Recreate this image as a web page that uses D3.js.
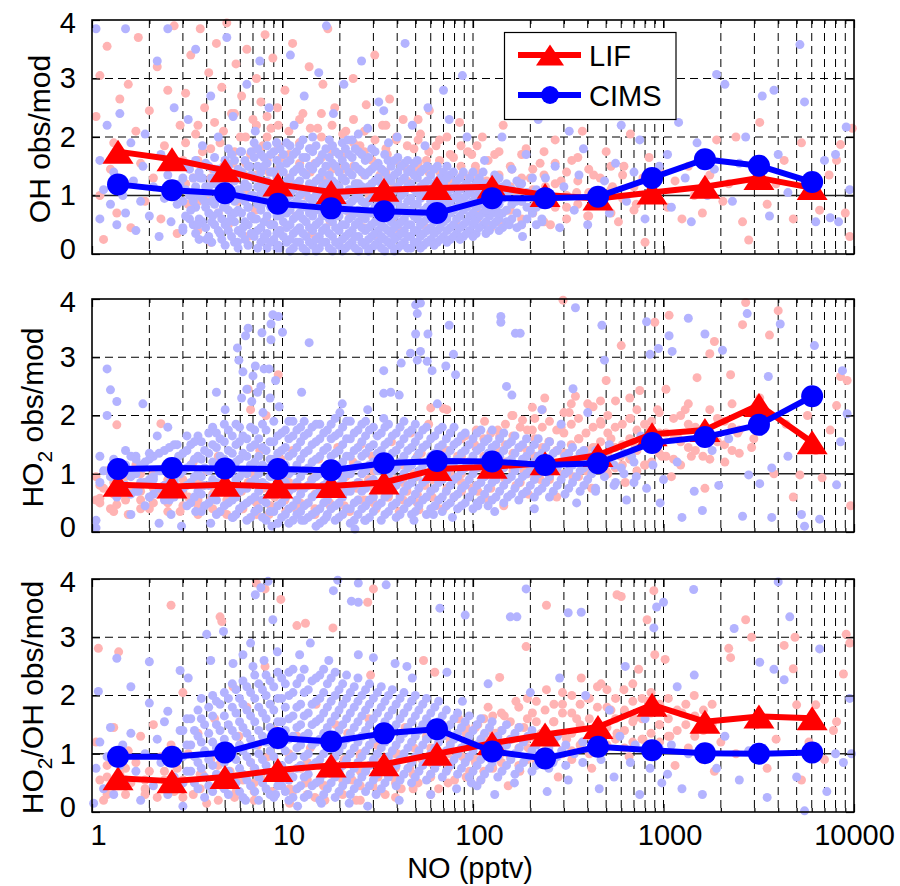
<!DOCTYPE html>
<html>
  <head>
    <meta charset="utf-8" />
    <script src="https://d3js.org/d3.v7.min.js"></script>
  </head>
  <body>
    <svg id="viz" width="900" height="886"></svg>
  </body>
  <script>
    // NO bin centres (pptv) for the binned means
    const noBins = [1.37, 2.63, 4.99, 9.46, 18.0, 34.1, 64.7, 126, 239, 453, 871, 1650, 3170, 6030];

    // binned means
    const ohLifMean = [1.75, 1.62, 1.43, 1.19, 1.06, 1.1, 1.13, 1.15, 1.01, 0.95, 1.05, 1.15, 1.3, 1.13];
    const ohCimsMean = [1.19, 1.09, 1.04, 0.86, 0.78, 0.73, 0.7, 0.955, 0.955, 0.98, 1.3, 1.62, 1.51, 1.23];
    const ho2LifMean = [0.81, 0.78, 0.81, 0.78, 0.79, 0.85, 1.08, 1.12, 1.18, 1.32, 1.68, 1.75, 2.18, 1.54];
    const ho2CimsMean = [1.08, 1.1, 1.09, 1.08, 1.06, 1.18, 1.22, 1.21, 1.15, 1.18, 1.53, 1.63, 1.84, 2.33];
    const ratioLifMean = [0.58, 0.53, 0.6, 0.72, 0.8, 0.82, 1.0, 1.18, 1.33, 1.46, 1.84, 1.55, 1.64, 1.61];
    const ratioCimsMean = [0.95, 0.95, 1.02, 1.27, 1.21, 1.35, 1.42, 1.04, 0.92, 1.12, 1.06, 1.01, 1.0, 1.02];

    // individual points [NO, obs/mod]
    const ohCimsPts = [
      [1.05,3.85],[1.1,1.6],[1.1,0.6],[1.15,1.1],[1.2,2.2],[1.25,0.85],[1.3,1.4],[1.35,0.5],[1.4,2.4],[1.45,1.0],[1.5,3.85],[1.5,0.7],[1.6,1.9],[1.65,1.25],[1.7,0.4],[1.8,0.9],[1.85,1.5],[1.9,2.05],[2.0,0.65],[2.1,1.15],[2.2,3.3],[2.25,0.3],[2.3,1.7],[2.4,0.95],[2.5,3.85],[2.5,1.35],[2.6,0.55],[2.7,2.5],[2.8,0.85],[2.9,1.2],
      [3.0,0.4],[3.1,1.55],[3.2,2.3],[3.3,0.75],[3.4,1.05],[3.5,3.5],[3.6,0.5],[3.7,1.3],[3.8,1.85],[3.9,0.9],[4.0,0.25],[4.1,1.15],[4.2,2.7],[4.3,0.65],[4.4,1.45],[4.5,0.95],[4.6,2.0],[4.7,0.35],[4.8,1.25],[4.9,0.8],[5.0,1.6],[5.1,3.7],[5.2,0.55],[5.3,1.05],[5.5,2.35],[5.6,0.7],[5.7,1.35],[5.8,0.2],[5.9,0.95],[6.0,1.75],[6.2,0.45],[6.3,1.15],[6.5,2.9],[6.6,0.8],[6.7,1.5],[6.9,0.35],[7.0,1.0],[7.2,2.1],[7.3,0.6],[7.5,1.3],[7.6,3.3],[7.8,0.85],[8.0,1.65],[8.1,0.25],[8.3,1.1],[8.5,2.5],[8.7,0.5],[8.9,1.4],[9.1,0.75],[9.3,1.9],[9.5,0.15],[9.7,1.2],[9.9,0.95],
      [11.5,2.2],[15.5,3.1],[18.5,2.4],[25,2.05],[32,2.6],[36,1.9],[48,2.2],[70,2.8],[93,2.0],[22,1.95],[28,2.15],[40,2.0],[56,1.85],
      [11,3.4],[13,2.7],[17,3.9],[21,2.9],[26,3.3],[34,2.45],[44,3.6],[58,2.5],[75,2.3],[88,3.05],
      [102,0.55],[106,1.25],[110,0.85],[115,1.6],[120,0.4],[125,1.0],[130,1.35],[136,0.7],[142,2.0],[148,1.1],[155,0.5],[160,1.45],[168,0.9],[175,1.2],[182,0.3],[190,1.7],[200,0.8],[210,1.05],[220,2.3],[230,0.6],[240,1.3],[255,0.95],[270,1.5],[285,0.45],[300,1.15],[320,2.1],[340,0.75],[360,1.35],[380,1.8],[400,0.5],[430,1.0],[460,2.45],[490,1.25],[520,0.7],[560,1.55],[600,2.2],[640,0.9],[700,1.4],[750,1.95],[800,0.6],[850,1.2],[900,2.6],[950,1.5],
      [1050,1.7],[1100,0.8],[1200,2.25],[1300,1.3],[1400,0.55],[1500,1.9],[1700,1.0],[1850,1.45],[1900,3.07],[2100,2.9],[2300,0.9],[2500,1.55],[2700,2.0],[3000,1.25],[3300,2.7],[3600,0.65],[3800,2.8],[4000,1.7],[4500,1.05],[5200,3.58],[5500,2.6],[5700,1.3],[6300,0.55],[7000,1.6],[7500,0.62],[8000,1.7],[8300,0.55],[9100,2.17],[9500,1.1]
    ];
    // dense core of each cloud, read column by column: [NO, [obs/mod values]]
    const ohCimsCloud = [
      [3.0,[0.45,0.9,1.3]],[3.25,[0.6,1.0,1.45]],[3.5,[0.35,0.8,1.15,1.6]],[3.8,[0.55,0.95,1.3]],[4.1,[0.3,0.7,1.05,1.5]],[4.4,[0.5,0.85,1.2,1.65]],[4.8,[0.25,0.6,0.95,1.35]],[5.2,[0.4,0.75,1.1,1.5,1.8]],[5.6,[0.2,0.55,0.9,1.25,1.6]],[6.1,[0.35,0.7,1.0,1.4,1.75]],[6.6,[0.15,0.5,0.8,1.15,1.5]],[7.1,[0.3,0.6,0.95,1.3,1.65,1.9]],[7.7,[0.2,0.45,0.75,1.05,1.4,1.7]],[8.3,[0.1,0.35,0.65,0.95,1.25,1.55,1.85]],[9.0,[0.25,0.5,0.8,1.1,1.4,1.75]],[9.7,[0.1,0.4,0.65,0.9,1.2,1.5,1.8]],
      [10.5,[0.2,0.45,0.7,0.95,1.25,1.55,1.9]],[11.4,[0.1,0.35,0.6,0.85,1.1,1.4,1.7]],[12.3,[0.2,0.45,0.7,1.0,1.25,1.5,1.85]],[13.3,[0.05,0.3,0.55,0.8,1.05,1.35,1.65]],[14.4,[0.15,0.4,0.65,0.9,1.15,1.45,1.75,2.0]],[15.6,[0.1,0.3,0.55,0.8,1.05,1.3,1.6]],[16.9,[0.2,0.45,0.7,0.95,1.2,1.5,1.8]],[18.3,[0.05,0.3,0.55,0.8,1.0,1.25,1.55,1.85]],[19.8,[0.15,0.4,0.65,0.9,1.15,1.4,1.7]],[21.4,[0.1,0.3,0.5,0.75,1.0,1.25,1.5,1.8]],[23.2,[0.2,0.4,0.65,0.9,1.1,1.35,1.65,1.95]],[25.1,[0.05,0.3,0.55,0.75,1.0,1.2,1.45,1.75]],[27.2,[0.15,0.4,0.6,0.85,1.1,1.35,1.6]],[29.4,[0.1,0.3,0.5,0.7,0.95,1.2,1.45,1.8]],[31.8,[0.2,0.4,0.6,0.85,1.05,1.3,1.55]],[34.4,[0.05,0.25,0.45,0.7,0.9,1.15,1.4,1.7]],[37.2,[0.15,0.35,0.55,0.8,1.0,1.25,1.5]],[40.3,[0.1,0.3,0.5,0.7,0.9,1.15,1.4,1.65]],[43.6,[0.2,0.4,0.6,0.8,1.05,1.3,1.55]],[47.2,[0.1,0.3,0.5,0.75,0.95,1.2,1.45]],
      [51,[0.2,0.4,0.6,0.85,1.05,1.3,1.6]],[55,[0.15,0.35,0.55,0.75,1.0,1.2,1.45]],[60,[0.25,0.45,0.65,0.9,1.1,1.35]],[65,[0.2,0.4,0.6,0.8,1.0,1.25,1.5]],[70,[0.3,0.55,0.75,0.95,1.2,1.4]],[76,[0.25,0.45,0.7,0.9,1.1,1.35]],[82,[0.35,0.6,0.8,1.0,1.25]],[89,[0.3,0.5,0.75,0.95,1.15,1.4]],[96,[0.4,0.65,0.85,1.05,1.3]],[104,[0.35,0.6,0.8,1.0,1.2]],[113,[0.5,0.7,0.9,1.15,1.4]],[122,[0.4,0.65,0.85,1.05]],[132,[0.55,0.8,1.0,1.25]],[143,[0.45,0.7,0.95,1.15]],[160,[0.6,0.85,1.1]],[180,[0.5,0.9,1.2]],[205,[0.7,1.0,1.3]],[230,[0.55,0.85]]
    ];
    const ohCimsCloudB = [
      [3.1,[0.65,1.1,1.5]],[3.4,[0.5,0.9,1.3]],[3.65,[0.25,0.6,1.0,1.4]],[3.95,[0.45,0.8,1.15,1.55]],[4.25,[0.2,0.55,0.9,1.3]],[4.6,[0.4,0.7,1.05,1.45]],[5.0,[0.15,0.5,0.85,1.2,1.6]],[5.4,[0.3,0.65,1.0,1.35,1.7]],[5.85,[0.1,0.4,0.75,1.1,1.45]],[6.35,[0.25,0.55,0.9,1.2,1.6]],[6.85,[0.35,0.65,1.0,1.35,1.75]],[7.4,[0.1,0.4,0.85,1.15,1.5,1.8]],[8.0,[0.3,0.55,0.9,1.2,1.5]],[8.65,[0.2,0.5,0.8,1.1,1.4,1.7]],[9.35,[0.1,0.35,0.65,0.95,1.3,1.6,1.9]],
      [10.1,[0.3,0.55,0.8,1.1,1.4,1.7]],[10.95,[0.05,0.25,0.5,0.75,1.0,1.3,1.6,1.85]],[11.85,[0.2,0.4,0.65,0.9,1.2,1.45,1.75]],[12.8,[0.1,0.35,0.6,0.85,1.1,1.4,1.65,1.95]],[13.85,[0.2,0.45,0.7,0.95,1.2,1.5,1.8]],[15.0,[0.05,0.25,0.5,0.75,1.0,1.25,1.55,1.85]],[16.2,[0.2,0.4,0.65,0.9,1.15,1.4,1.7]],[17.6,[0.1,0.35,0.6,0.85,1.1,1.35,1.65,1.95]],[19.0,[0.2,0.45,0.7,0.95,1.2,1.5,1.75]],[20.6,[0.05,0.25,0.5,0.8,1.05,1.3,1.6,1.9]],[22.3,[0.15,0.35,0.6,0.85,1.1,1.4,1.7]],[24.1,[0.1,0.3,0.5,0.7,0.95,1.2,1.5,1.8]],[26.1,[0.2,0.45,0.65,0.9,1.15,1.4,1.7]],[28.3,[0.05,0.25,0.45,0.7,0.9,1.15,1.4,1.65]],[30.6,[0.15,0.35,0.55,0.8,1.0,1.25,1.5,1.75]],[33.1,[0.1,0.3,0.5,0.75,0.95,1.2,1.45]],[35.8,[0.2,0.4,0.6,0.85,1.05,1.3,1.6]],[38.7,[0.05,0.25,0.45,0.65,0.9,1.1,1.35,1.6]],[41.9,[0.15,0.35,0.55,0.8,1.0,1.25,1.5]],[45.4,[0.1,0.3,0.5,0.7,0.9,1.15,1.4,1.6]],[49.1,[0.2,0.4,0.65,0.85,1.1,1.35,1.55]],
      [53,[0.1,0.3,0.5,0.7,0.95,1.15,1.4]],[57.5,[0.2,0.4,0.6,0.8,1.05,1.25,1.5]],[62.5,[0.15,0.35,0.55,0.75,0.95,1.2,1.45]],[67.5,[0.25,0.45,0.7,0.9,1.1,1.3]],[73,[0.2,0.4,0.6,0.85,1.05,1.3,1.5]],[79,[0.3,0.5,0.75,0.95,1.15,1.4]],[85.5,[0.25,0.45,0.65,0.9,1.1,1.3]],[92.5,[0.35,0.55,0.8,1.0,1.2]],[100,[0.3,0.5,0.7,0.9,1.15,1.4]],[108,[0.45,0.65,0.85,1.1,1.3]],[117,[0.35,0.55,0.75,0.95,1.2]],[127,[0.5,0.7,0.9,1.15]],[137,[0.4,0.6,0.85,1.05,1.3]],[150,[0.55,0.75,1.0,1.2]],[170,[0.45,0.7,0.95,1.25]],[192,[0.6,0.8,1.05]],[215,[0.5,0.8,1.1]]
    ];
    const ohLifPts = [
      [1.05,2.35],[1.1,3.05],[1.1,1.0],[1.15,0.25],[1.2,3.55],[1.25,1.45],[1.3,1.9],[1.35,0.7],[1.4,2.65],[1.5,1.2],[1.55,2.9],[1.6,0.45],[1.7,2.1],[1.75,3.7],[1.8,1.55],[1.9,0.9],[2.0,2.45],[2.1,1.3],[2.2,3.2],[2.3,0.6],[2.4,1.85],[2.5,2.8],[2.6,1.05],[2.7,3.9],[2.8,0.35],[2.9,2.2],
      [3.0,1.6],[3.1,2.75],[3.2,0.85],[3.3,3.4],[3.4,1.3],[3.5,2.05],[3.6,0.4],[3.7,3.85],[3.8,1.75],[3.9,2.5],[4.0,1.0],[4.1,3.1],[4.2,0.2],[4.3,1.45],[4.4,2.25],[4.5,3.6],[4.6,0.7],[4.7,1.9],[4.8,2.85],[5.0,1.2],[5.1,3.95],[5.2,0.5],[5.4,2.4],[5.5,1.55],[5.7,3.25],[5.8,0.9],[6.0,2.0],[6.1,2.7],[6.3,1.35],[6.5,3.5],[6.6,0.3],[6.8,1.7],[7.0,2.3],[7.2,0.75],[7.3,3.0],[7.5,1.15],[7.7,2.6],[7.9,1.85],[8.1,3.75],[8.3,0.55],[8.5,1.4],[8.7,2.15],[8.9,3.35],[9.2,1.0],[9.4,2.5],[9.7,0.4],[9.9,1.65],
      [10.3,2.8],[10.8,1.25],[11.3,3.6],[11.8,0.65],[12.3,1.9],[12.8,2.4],[13.3,1.0],[13.8,3.2],[14.3,0.35],[14.8,1.55],[15.3,2.15],[15.8,0.8],[16.3,2.9],[16.8,1.3],[17.3,3.85],[17.8,0.55],[18.3,1.75],[18.8,2.5],[19.3,1.05],[19.8,0.2],[20.5,1.45],[21.5,2.1],[22.5,0.7],[23.5,3.0],[24.5,1.2],[25.5,1.85],[26.5,0.45],[27.5,2.55],[28.5,1.0],[29.5,1.6],[30.5,3.4],[31.5,0.3],[32.5,1.35],[33.5,2.2],[34.5,0.85],[35.5,1.7],[36.5,2.65],[37.5,0.6],[38.5,1.15],[39.5,1.95],[41,0.4],[43,2.3],[45,1.25],[47,0.75],[49,1.8],[51,1.45],[53,2.05],[55,0.5],[57,1.6],[59,2.45],[61,0.95],[64,1.85],[67,1.4],[70,0.7],[73,2.0],[76,1.2],[79,1.65],[82,0.5],[85,2.25],[88,1.35],[91,0.85],[94,1.75],[97,1.1],
      [103,1.5],[107,0.7],[112,2.0],[118,1.25],[124,0.45],[130,1.7],[137,1.0],[144,2.2],[152,0.75],[160,1.45],[170,1.05],[180,0.6],[190,1.8],[200,1.3],[212,0.9],[225,1.55],[240,1.15],[255,0.5],[270,1.95],[290,1.25],[310,0.8],[330,1.6],[350,1.05],[375,2.1],[400,0.65],[430,1.35],[460,0.95],[500,1.75],[540,1.15],[580,0.55],[620,1.5],[670,2.05],[720,0.85],[780,1.3],[800,0.2],[840,1.65],[900,0.95],[960,1.4],
      [1050,0.8],[1150,1.25],[1250,0.6],[1350,1.5],[1450,1.0],[1600,0.7],[1750,1.35],[1900,1.95],[2050,0.9],[2200,1.2],[2400,2.0],[2600,0.55],[2800,0.24],[3000,1.45],[3200,2.25],[3500,0.85],[3900,1.2],[4300,1.6],[4800,0.6],[5300,1.9],[5900,1.05],[6600,0.75],[7400,1.35],[8100,1.6],[8500,1.87],[9000,0.7],[9500,0.3],[9800,2.15]
    ];
    const ohLifCloud = [
      [3.1,[1.2,1.9]],[3.6,[0.9,1.6,2.2]],[4.2,[1.3,1.8]],[4.9,[1.0,1.5,2.1]],[5.6,[1.25,1.75,2.4]],[6.4,[1.1,1.55,2.0]],[7.3,[1.35,1.8,2.2]],[8.3,[1.2,1.6,2.0,2.35]],[9.5,[1.0,1.45,1.85,2.2]],[10.8,[1.3,1.7,2.1]],[12.3,[1.15,1.55,1.9,2.3]],[14.0,[1.4,1.8,2.15]],[16.0,[1.25,1.65,2.0,2.4]],[18.2,[1.45,1.85,2.2]],[20.7,[1.3,1.7,2.05]],[23.6,[1.5,1.9,2.3]],[26.9,[1.35,1.75,2.1]],[30.6,[1.55,1.95]],[34.9,[1.4,1.8,2.2]],[39.7,[1.6,2.0]],[45.2,[1.45,1.85]],[51.5,[1.55,1.95,2.3]],[58.6,[1.4,1.75]],[66.7,[1.6,1.95]],[76,[1.3,1.7]],[86.5,[1.5,1.85]],[98.5,[1.35,1.7]],
      [105,[0.6,1.0,1.4,1.85]],[120,[0.8,1.2,1.6]],[137,[0.55,0.95,1.35,1.75]],[157,[0.75,1.15,1.5]],[180,[0.5,0.9,1.3,1.7]],[206,[0.7,1.1,1.45]],[236,[0.55,0.95,1.35,1.75]],[270,[0.8,1.2,1.55]],[310,[0.6,1.0,1.4]],[355,[0.85,1.25,1.65]],[405,[0.65,1.05,1.45]],[465,[0.9,1.3]],[530,[0.7,1.1,1.5]],[610,[0.95,1.35]],[700,[0.75,1.15]]
    ];

    const ho2CimsPts = [
      [1.05,0.07],[1.05,0.2],[1.1,1.3],[1.1,0.85],[1.15,1.05],[1.2,2.8],[1.2,2.0],[1.25,2.44],[1.25,0.95],[1.3,1.25],[1.35,2.24],[1.35,0.6],[1.4,1.15],[1.5,0.8],[1.5,1.4],[1.6,0.3],[1.6,1.0],[1.7,1.25],[1.75,0.7],[1.85,2.2],[1.85,1.1],[1.9,0.45],[2.0,1.35],[2.1,0.9],[2.2,1.65],[2.25,0.15],[2.3,1.05],[2.4,0.55],[2.5,1.8],[2.55,1.2],[2.6,0.3],[2.7,0.85],[2.8,1.5],[2.9,1.0],[2.95,0.1],
      [3.5,0.35],[4.2,0.15],[4.5,2.4],[5.5,0.25],[5.8,3.16],[5.9,2.95],[6.1,2.3],[6.2,2.75],[6.4,3.37],[6.5,2.45],[6.6,3.5],[6.9,2.24],[7.0,2.68],[7.2,2.85],[7.4,2.4],[7.7,2.5],[7.8,3.42],[8.0,2.8],[8.5,2.8],[8.6,2.3],[8.7,3.3],[8.7,3.57],[8.8,0.1],[8.9,3.73],[9.2,2.6],[9.5,3.7],[10,3.43],[5.0,2.1],[7.9,2.05],[9.6,2.15],
      [12.6,2.4],[12.6,0.2],[13.8,3.25],[17.0,0.25],[20.6,2.2],[27.0,0.2],[34.0,2.77],[34.0,2.38],[34.0,1.95],[37.0,2.4],[41.0,2.35],[42.0,2.9],[47.0,3.07],[49.0,0.2],[50.0,3.9],[50.0,3.4],[51.0,3.75],[51.0,2.95],[53.0,3.93],[53.0,3.1],[57.5,2.93],[58.0,3.4],[61.0,2.77],[62.0,0.3],[72.0,2.85],[75.0,3.55],[78.0,0.25],[79.0,3.05],[81.0,2.7],[20.0,2.05],[28.0,2.1],[65.0,2.2],[15.0,0.1],[24.0,0.05],
      [140,3.7],[140,3.6],[150,2.5],[160,2.35],[167,3.41],[177,3.41],[210,0.4],[290,1.85],[335,2.46],[345,3.85],[350,0.5],[440,0.7],[475,3.55],[490,2.95],[520,1.5],[560,0.85],[600,1.1],[640,0.55],[680,1.3],[720,0.95],[760,1.65],[815,3.61],[815,0.75],[850,3.05],[880,1.15],[940,3.15],[960,0.5],[130,0.35],[106,0.45],[230,2.1],[400,2.05],
      [1000,0.9],[1070,3.37],[1110,3.1],[1180,1.2],[1250,0.25],[1350,3.67],[1450,0.7],[1600,0.37],[1650,3.4],[1800,1.4],[1950,0.8],[2040,3.12],[2200,1.6],[2600,0.27],[2750,3.75],[2800,0.98],[3200,0.83],[3550,2.67],[3700,1.1],[3700,0.25],[4100,3.57],[4500,1.3],[5300,0.3],[5500,0.1],[6200,3.2],[6600,0.22],[8100,0.81],[8500,1.55],[8700,2.77],[9200,2.03]
    ];
    const ho2CimsCloud = [
      [1.5,[0.8,1.15]],[1.7,[0.7,1.0,1.3]],[1.9,[0.85,1.2]],[2.1,[0.65,0.95,1.3]],[2.4,[0.8,1.1,1.4]],[2.7,[0.6,0.9,1.2,1.5]],[3.0,[0.75,1.05,1.35]],[3.3,[0.5,0.85,1.15,1.5]],[3.6,[0.7,1.0,1.3,1.65]],[3.9,[0.45,0.8,1.1,1.4]],[4.3,[0.6,0.9,1.2,1.5,1.8]],[4.7,[0.35,0.7,1.0,1.3,1.6]],[5.2,[0.5,0.8,1.1,1.4,1.75]],[5.7,[0.3,0.6,0.9,1.2,1.5,1.85]],[6.2,[0.45,0.75,1.05,1.35,1.65]],[6.8,[0.25,0.55,0.85,1.15,1.45,1.8]],[7.5,[0.4,0.7,1.0,1.3,1.6]],[8.2,[0.2,0.5,0.8,1.1,1.4,1.75]],[9.0,[0.35,0.65,0.95,1.25,1.55,1.9]],[9.9,[0.25,0.5,0.8,1.1,1.4,1.7]],
      [10.8,[0.15,0.4,0.7,1.0,1.3,1.6,1.9]],[11.9,[0.3,0.55,0.85,1.15,1.45,1.75]],[13.0,[0.2,0.45,0.75,1.05,1.35,1.65,1.9]],[14.3,[0.3,0.6,0.9,1.2,1.5,1.8]],[15.7,[0.15,0.4,0.7,1.0,1.3,1.6,1.85]],[17.2,[0.3,0.55,0.85,1.15,1.45,1.75]],[18.9,[0.2,0.45,0.75,1.05,1.35,1.65,1.95]],[20.7,[0.3,0.6,0.9,1.2,1.5,1.8]],[22.7,[0.15,0.4,0.7,1.0,1.3,1.6,1.9]],[24.9,[0.3,0.55,0.85,1.15,1.45,1.75]],[27.3,[0.2,0.45,0.75,1.05,1.35,1.65,1.9]],[30,[0.35,0.6,0.9,1.2,1.5,1.8]],[33,[0.2,0.5,0.8,1.1,1.4,1.7]],[36,[0.35,0.65,0.95,1.25,1.55,1.85]],[39.5,[0.25,0.5,0.8,1.1,1.4,1.7]],[43.4,[0.4,0.7,1.0,1.3,1.6,1.9]],[47.6,[0.3,0.55,0.85,1.15,1.45,1.75]],
      [52,[0.45,0.75,1.05,1.35,1.65]],[57,[0.3,0.6,0.9,1.2,1.5,1.8]],[63,[0.45,0.75,1.05,1.35,1.65]],[69,[0.35,0.6,0.9,1.2,1.5,1.8]],[76,[0.5,0.8,1.1,1.4,1.7]],[83,[0.4,0.65,0.95,1.25,1.55]],[91,[0.5,0.8,1.1,1.4,1.7]],[100,[0.4,0.7,1.0,1.3,1.6]],[110,[0.55,0.85,1.15,1.45,1.75]],[120,[0.45,0.75,1.05,1.35,1.6]],[132,[0.6,0.9,1.2,1.5]],[145,[0.5,0.8,1.1,1.4,1.7]],[159,[0.65,0.95,1.25,1.55]],[174,[0.55,0.85,1.15,1.45]],[191,[0.7,1.0,1.3,1.6]],[210,[0.6,0.9,1.2,1.5]],[230,[0.75,1.05,1.35]],[252,[0.6,0.95,1.25,1.55]],[277,[0.8,1.1,1.4]],[304,[0.65,1.0,1.3]],[333,[0.85,1.15,1.45]],[365,[0.7,1.05,1.35]],[400,[0.9,1.2]],[440,[0.75,1.1,1.4]],[490,[0.95,1.3]],[550,[0.8,1.15]],[620,[1.0,1.35]],[700,[0.85,1.2]]
    ];
    const ho2CimsCloudB = [
      [1.6,[0.65,0.95,1.3]],[1.8,[0.85,1.15]],[2.0,[0.6,0.9,1.25]],[2.25,[0.75,1.05,1.35]],[2.55,[0.55,0.85,1.15,1.45]],[2.85,[0.7,1.0,1.3]],[3.15,[0.45,0.8,1.1,1.4,1.65]],[3.45,[0.6,0.95,1.25,1.55]],[3.75,[0.35,0.65,0.95,1.25,1.55]],[4.1,[0.5,0.8,1.05,1.35,1.7]],[4.5,[0.3,0.55,0.85,1.15,1.45,1.7]],[4.95,[0.45,0.7,0.95,1.25,1.55,1.85]],[5.45,[0.25,0.55,0.8,1.05,1.35,1.65]],[5.95,[0.4,0.7,0.95,1.25,1.55,1.8]],[6.5,[0.2,0.5,0.75,1.0,1.3,1.6]],[7.15,[0.35,0.6,0.9,1.2,1.5,1.75]],[7.85,[0.25,0.55,0.85,1.15,1.45,1.85]],[8.6,[0.35,0.65,0.95,1.25,1.55]],[9.45,[0.15,0.45,0.75,1.05,1.35,1.65]],
      [10.35,[0.3,0.6,0.85,1.15,1.45,1.75]],[11.35,[0.2,0.45,0.75,1.05,1.35,1.65,1.9]],[12.45,[0.35,0.65,0.95,1.25,1.55,1.8]],[13.65,[0.25,0.5,0.8,1.1,1.4,1.7]],[15.0,[0.35,0.65,0.95,1.25,1.55,1.85]],[16.45,[0.2,0.5,0.8,1.1,1.4,1.7]],[18.0,[0.4,0.7,1.0,1.3,1.6,1.85]],[19.8,[0.25,0.5,0.8,1.1,1.4,1.7]],[21.7,[0.4,0.7,1.0,1.3,1.6,1.9]],[23.8,[0.2,0.5,0.8,1.1,1.4,1.7]],[26.1,[0.4,0.7,1.0,1.3,1.55,1.85]],[28.6,[0.25,0.55,0.85,1.15,1.45,1.75]],[31.5,[0.45,0.75,1.05,1.35,1.65]],[34.5,[0.3,0.6,0.9,1.2,1.5,1.8]],[37.7,[0.45,0.75,1.05,1.35,1.65]],[41.4,[0.3,0.6,0.9,1.2,1.5,1.8]],[45.5,[0.5,0.8,1.1,1.4,1.7]],[49.8,[0.35,0.65,0.95,1.25,1.55,1.85]],
      [54.5,[0.55,0.85,1.15,1.45,1.75]],[60,[0.4,0.7,1.0,1.3,1.6]],[66,[0.55,0.85,1.15,1.45,1.75]],[72.5,[0.45,0.7,1.0,1.3,1.6]],[79.5,[0.6,0.9,1.2,1.5,1.8]],[87,[0.45,0.75,1.05,1.35,1.65]],[95.5,[0.6,0.9,1.2,1.5]],[105,[0.5,0.8,1.1,1.4,1.7]],[115,[0.65,0.95,1.25,1.55]],[126,[0.55,0.85,1.15,1.45,1.75]],[138,[0.7,1.0,1.3,1.6]],[152,[0.6,0.9,1.2,1.5]],[166,[0.75,1.05,1.35,1.65]],[182,[0.65,0.95,1.25,1.5]],[200,[0.8,1.1,1.4]],[220,[0.7,1.0,1.3,1.6]],[241,[0.85,1.15,1.45]],[264,[0.7,1.05,1.35]],[290,[0.9,1.2,1.5]],[318,[0.75,1.05,1.35]],[349,[0.95,1.25]],[382,[0.8,1.1,1.4]],[420,[1.0,1.3]]
    ];
    const ho2LifPts = [
      [1.05,0.95],[1.05,0.55],[1.1,0.58],[1.15,0.75],[1.2,1.05],[1.25,0.4],[1.3,0.85],[1.35,0.47],[1.35,1.84],[1.4,0.65],[1.5,0.95],[1.55,0.3],[1.6,0.7],[1.7,1.15],[1.8,0.55],[1.9,0.85],[2.0,0.4],[2.1,1.0],[2.2,0.65],[2.3,1.86],[2.4,0.8],[2.5,0.5],[2.6,1.1],[2.8,0.7],[2.9,0.35],
      [3.0,0.9],[3.2,0.6],[3.4,1.2],[3.6,0.45],[3.8,0.8],[4.0,1.05],[4.2,0.55],[4.4,0.75],[4.6,1.3],[4.8,0.35],[5.0,0.95],[5.3,0.6],[5.6,1.15],[5.9,0.7],[6.2,0.4],[6.6,2.45],[6.6,0.85],[6.8,2.1],[7.0,1.0],[7.3,0.5],[7.6,1.4],[7.9,0.75],[8.2,2.0],[8.5,0.3],[8.8,1.1],[9.1,0.6],[9.5,2.7],[9.5,0.9],[9.8,1.25],
      [10.3,0.55],[10.8,0.85],[11.3,1.4],[11.8,0.4],[12.4,0.75],[13.0,1.05],[13.6,0.5],[14.2,0.9],[14.8,0.3],[15.5,1.25],[16.2,0.65],[17.0,1.0],[17.8,0.45],[18.6,0.8],[19.5,1.45],[20.5,0.6],[21.5,0.95],[22.5,0.35],[23.5,1.2],[24.6,0.75],[25.8,1.5],[27.0,0.55],[28.3,0.9],[29.6,1.3],[31.0,0.4],[32.5,0.8],[34.0,1.1],[35.6,0.6],[37.3,1.55],[39.0,0.9],[41.0,0.35],[43.0,1.2],[45.0,0.7],[47.0,1.7],[49.0,1.0],[51.0,0.5],[52.0,0.38],[53.5,1.35],[56.0,0.8],[58.5,1.85],[60.0,2.13],[61.0,1.1],[64.0,0.45],[67.0,1.4],[70.0,2.12],[70.0,0.4],[73.0,2.1],[76.0,1.0],[79.5,0.6],[83.0,1.3],[87.0,0.85],[91.0,1.65],[95.0,1.2],[99.0,0.75],
      [102,1.5],[106,0.7],[110,1.1],[115,1.9],[120,0.55],[126,1.3],[132,0.9],[138,1.65],[145,0.45],[152,1.2],[160,2.0],[168,0.8],[176,1.45],[182,1.92],[185,1.05],[195,0.65],[205,1.75],[205,2.14],[215,1.25],[226,0.9],[238,2.3],[250,1.55],[262,1.1],[275,0.6],[290,1.8],[297,3.98],[305,1.35],[320,2.05],[335,0.95],[345,2.33],[360,1.6],[380,1.2],[400,2.2],[420,0.75],[445,1.45],[470,1.85],[500,2.6],[500,1.05],[530,1.6],[560,2.25],[595,1.3],[600,3.2],[630,0.85],[670,1.95],[710,1.45],[750,2.43],[800,1.15],[850,1.75],[900,3.6],[930,2.1],[980,1.3],
      [1030,2.45],[1070,3.72],[1100,0.95],[1200,1.6],[1300,2.1],[1400,1.3],[1500,2.65],[1650,0.75],[1750,3.06],[1850,3.27],[1950,1.9],[2100,1.2],[2250,2.7],[2450,1.7],[2600,3.56],[2700,3.94],[2900,1.45],[3200,2.3],[3600,3.38],[3800,1.0],[4000,3.8],[4400,1.85],[4800,0.6],[5200,0.98],[5700,2.0],[6300,1.4],[6800,0.93],[7500,1.75],[8100,2.17],[8500,2.67],[9200,2.6],[9600,0.45]
    ];
    const ho2LifCloud = [
      [1.1,[0.5,0.8]],[1.3,[0.35,0.65,0.95]],[1.5,[0.55,0.8]],[1.8,[0.4,0.7,1.0]],[2.1,[0.5,0.75]],[2.5,[0.35,0.6,0.9]],[3.0,[0.45,0.7]],[3.6,[0.3,0.55,0.85]],[4.3,[0.4,0.65]],[5.1,[0.3,0.55,0.8]],[6.1,[0.4,0.7]],[7.3,[0.3,0.55,0.85]],[8.7,[0.45,0.7]],[10.4,[0.35,0.6,0.9]],[12.4,[0.5,0.75]],[14.8,[0.4,0.65,0.95]],[17.7,[0.5,0.8]],[21.1,[0.45,0.7,1.0]],[25.2,[0.55,0.85]],[30,[0.5,0.75,1.05]],[36,[0.6,0.9]],[43,[0.55,0.85,1.15]],[51,[0.65,0.95,1.3]],[61,[0.6,0.9,1.2]],[73,[0.75,1.05,1.4]],[87,[0.7,1.0,1.3,1.6]],
      [104,[0.8,1.1,1.45,1.75]],[124,[0.75,1.05,1.35,1.7]],[148,[0.9,1.2,1.5,1.85]],[177,[0.85,1.15,1.45,1.8]],[211,[0.95,1.3,1.6,1.95]],[252,[0.9,1.2,1.55,1.9]],[300,[1.0,1.35,1.7,2.05]],[358,[0.95,1.25,1.6,1.95]],[427,[1.1,1.45,1.8,2.15]],[510,[1.0,1.35,1.7,2.0]],[608,[1.15,1.5,1.85]],[725,[1.05,1.4,1.75,2.1]],[865,[1.2,1.55,1.9]],[1030,[1.3,1.7]],[1230,[1.15,1.55,2.0]],[1470,[1.4,1.8]],[1750,[1.25,1.65,2.1]],[2090,[1.5,1.9]],[2500,[1.35,1.75]],[2980,[1.6,2.0]],
      [114,[0.95,1.3,1.6]],[135,[1.0,1.4,1.75]],[162,[1.05,1.35,1.65,2.0]],[193,[1.0,1.4,1.75]],[231,[1.1,1.45,1.8,2.1]],[275,[1.05,1.4,1.75]],[328,[1.15,1.5,1.85,2.2]],[392,[1.05,1.4,1.7]],[467,[1.2,1.55,1.9,2.25]],[558,[1.1,1.45,1.8]],[665,[1.25,1.6,1.95,2.3]],[795,[1.15,1.5,1.85]],[950,[1.35,1.7,2.05]],[1130,[1.25,1.6,1.95]],[1350,[1.45,1.85,2.2]],[1610,[1.3,1.7]],[1920,[1.55,1.95]],[2290,[1.4,1.8,2.2]]
    ];

    const ratioCimsPts = [
      [1.02,0.15],[1.05,0.75],[1.08,2.07],[1.1,1.2],[1.15,0.4],[1.2,0.95],[1.25,1.45],[1.3,0.3],[1.35,2.64],[1.4,0.8],[1.45,1.15],[1.5,0.55],[1.6,2.15],[1.6,1.35],[1.7,0.7],[1.8,0.2],[1.9,1.0],[2.0,2.58],[2.0,1.87],[2.1,0.45],[2.2,1.25],[2.3,0.85],[2.4,1.55],[2.5,1.73],[2.5,0.3],[2.6,1.05],[2.7,0.6],[2.9,2.43],[2.9,1.4],
      [3.0,0.1],[3.2,2.3],[3.9,0.25],[4.0,3.05],[4.2,2.6],[4.9,3.1],[6.2,2.7],[6.4,0.2],[7.0,2.5],[7.2,3.73],[7.7,3.85],[8.4,3.96],[8.9,3.3],[9.2,0.3],[5.5,2.55],[6.8,2.9],[8.0,2.6],[9.4,2.75],
      [12.3,2.7],[17.5,2.6],[18.5,3.8],[19.5,3.98],[22.4,0.15],[23.0,3.62],[25.0,3.93],[25.0,3.6],[25.0,2.7],[31.0,0.3],[35.0,3.9],[39.0,2.55],[41.0,0.2],[48.0,2.3],[60.0,0.3],[67.0,3.5],[73.0,2.4],[82.0,0.4],[88.0,1.9],[91.0,3.38],[98.0,0.5],[14.0,2.9],[30.0,2.65],[45.0,2.5],[12.0,0.1],[16.0,0.15],[28.0,0.1],
      [120,2.2],[130,0.3],[157,3.35],[170,3.35],[190,3.83],[200,2.05],[245,0.35],[285,2.3],[316,3.42],[316,0.55],[370,3.43],[390,2.0],[460,0.4],[520,1.75],[550,0.6],[590,1.3],[630,2.5],[670,0.85],[710,1.15],[750,0.3],[800,1.6],[850,0.75],[890,3.16],[920,3.52],[950,1.1],[980,0.5],[105,0.45],[165,0.5],
      [1000,3.6],[1050,0.65],[1100,1.15],[1180,2.15],[1250,0.4],[1350,1.0],[1440,3.82],[1450,2.35],[1600,0.3],[1750,1.1],[1900,0.75],[2100,1.3],[2350,3.15],[2500,0.55],[2800,1.05],[3200,2.57],[3500,0.25],[3800,2.45],[4000,3.95],[4300,2.27],[4600,3.35],[5000,0.6],[5500,0.02],[5800,0.95],[6600,2.8],[7200,0.35],[8000,1.0],[8800,0.85],[9500,1.95],[9700,1.0]
    ];
    const ratioCimsCloud = [
      [3.0,[0.5,0.95,1.4]],[3.3,[0.7,1.15,1.6]],[3.6,[0.4,0.85,1.3,1.75]],[3.9,[0.6,1.05,1.5]],[4.3,[0.35,0.8,1.2,1.65,2.0]],[4.7,[0.55,1.0,1.4,1.85]],[5.2,[0.3,0.7,1.1,1.5,1.95]],[5.7,[0.5,0.9,1.3,1.7,2.1]],[6.2,[0.25,0.65,1.05,1.45,1.85,2.25]],[6.8,[0.45,0.85,1.25,1.65,2.05]],[7.5,[0.2,0.6,1.0,1.4,1.8,2.2]],[8.2,[0.4,0.8,1.2,1.6,2.0,2.35]],[9.0,[0.25,0.6,0.95,1.35,1.75,2.15]],[9.9,[0.45,0.8,1.15,1.55,1.95,2.3]],
      [10.8,[0.2,0.55,0.9,1.25,1.6,2.0,2.4]],[11.9,[0.4,0.75,1.1,1.45,1.8,2.2]],[13.0,[0.25,0.6,0.95,1.3,1.65,2.05,2.45]],[14.3,[0.45,0.8,1.15,1.5,1.85,2.25]],[15.7,[0.2,0.55,0.9,1.25,1.6,1.95,2.35]],[17.2,[0.4,0.75,1.1,1.45,1.8,2.2]],[18.9,[0.25,0.6,0.95,1.3,1.65,2.0,2.4]],[20.7,[0.45,0.8,1.15,1.5,1.85,2.2]],[22.7,[0.3,0.65,1.0,1.35,1.7,2.05]],[24.9,[0.5,0.85,1.2,1.55,1.9,2.3]],[27.3,[0.35,0.7,1.05,1.4,1.75,2.1]],[30,[0.55,0.9,1.25,1.6,1.95]],[33,[0.4,0.75,1.1,1.45,1.8,2.15]],[36,[0.6,0.95,1.3,1.65,2.0]],[39.5,[0.45,0.8,1.15,1.5,1.85]],[43.4,[0.65,1.0,1.35,1.7,2.05]],[47.6,[0.5,0.85,1.2,1.55,1.9]],
      [52,[0.7,1.05,1.4,1.75]],[57,[0.55,0.9,1.25,1.6,1.95]],[63,[0.75,1.1,1.45,1.8]],[69,[0.6,0.95,1.3,1.65]],[76,[0.8,1.15,1.5]],[83,[0.65,1.0,1.35,1.7]],[91,[0.85,1.2,1.55]],[100,[0.7,1.05,1.4]],[110,[0.55,0.9,1.25,1.6]],[122,[0.75,1.1,1.45]],[135,[0.6,0.95,1.3]],[150,[0.8,1.15,1.5]],[166,[0.65,1.0,1.35]],[184,[0.85,1.2]],[204,[0.7,1.05,1.4]],[226,[0.9,1.25]],[250,[0.75,1.1]],[277,[0.95,1.3]],[307,[0.8,1.15]],[340,[1.0]],[377,[0.85,1.2]],[420,[1.05]],[470,[0.9,1.25]]
    ];
    const ratioCimsCloudB = [
      [3.15,[0.7,1.15,1.6]],[3.45,[0.5,0.95,1.4]],[3.75,[0.75,1.2,1.6,1.95]],[4.1,[0.45,0.9,1.35,1.8]],[4.5,[0.65,1.1,1.5,1.9]],[4.95,[0.4,0.85,1.25,1.65,2.05]],[5.45,[0.6,1.0,1.4,1.8,2.2]],[5.95,[0.35,0.75,1.15,1.55,1.95]],[6.5,[0.55,0.95,1.35,1.75,2.15]],[7.15,[0.35,0.75,1.15,1.55,1.95,2.35]],[7.85,[0.5,0.9,1.3,1.7,2.1]],[8.6,[0.3,0.65,1.05,1.45,1.85,2.25]],[9.45,[0.45,0.8,1.15,1.55,1.95,2.4]],
      [10.35,[0.35,0.7,1.05,1.4,1.8,2.2]],[11.35,[0.25,0.6,0.95,1.3,1.65,2.05,2.45]],[12.45,[0.45,0.8,1.15,1.5,1.85,2.3]],[13.65,[0.3,0.65,1.0,1.35,1.7,2.1]],[15.0,[0.5,0.85,1.2,1.55,1.9,2.3]],[16.45,[0.3,0.65,1.0,1.35,1.7,2.05,2.45]],[18.0,[0.5,0.85,1.2,1.55,1.9,2.3]],[19.8,[0.35,0.7,1.05,1.4,1.75,2.1]],[21.7,[0.55,0.9,1.25,1.6,1.95,2.35]],[23.8,[0.4,0.75,1.1,1.45,1.8,2.15]],[26.1,[0.6,0.95,1.3,1.65,2.0]],[28.6,[0.45,0.8,1.15,1.5,1.85,2.2]],[31.5,[0.65,1.0,1.35,1.7,2.05]],[34.5,[0.5,0.85,1.2,1.55,1.9]],[37.7,[0.7,1.05,1.4,1.75,2.1]],[41.4,[0.55,0.9,1.25,1.6,1.95]],[45.5,[0.75,1.1,1.45,1.8]],[49.8,[0.6,0.95,1.3,1.65,2.0]],
      [54.5,[0.8,1.15,1.5,1.85]],[60,[0.65,1.0,1.35,1.7]],[66,[0.85,1.2,1.55,1.9]],[72.5,[0.7,1.05,1.4,1.75]],[79.5,[0.9,1.25,1.6]],[87,[0.75,1.1,1.45]],[95.5,[0.6,0.95,1.3,1.65]],[105,[0.8,1.15,1.5]],[115,[0.65,1.0,1.35]],[126,[0.85,1.2,1.55]],[142,[0.7,1.05,1.4]],[158,[0.9,1.25]],[175,[0.75,1.1,1.45]],[194,[0.95,1.3]],[215,[0.8,1.15]],[238,[1.0,1.35]],[263,[0.85,1.2]],[292,[1.05]]
    ];
    const ratioLifPts = [
      [1.05,1.2],[1.08,2.81],[1.1,0.55],[1.15,0.2],[1.2,0.8],[1.25,0.45],[1.3,1.45],[1.38,2.75],[1.4,0.65],[1.5,0.3],[1.55,1.05],[1.6,0.5],[1.7,0.85],[1.8,1.3],[1.9,0.4],[2.0,0.7],[2.1,1.5],[2.2,0.25],[2.3,0.95],[2.4,0.55],[2.6,3.55],[2.6,1.15],[2.7,0.35],[2.8,0.75],
      [3.0,2.05],[3.0,0.5],[3.2,1.0],[3.4,0.3],[3.6,1.35],[3.8,0.65],[4.0,0.15],[4.2,0.9],[4.4,1.6],[4.7,3.35],[4.8,3.27],[4.8,0.45],[5.0,1.1],[5.3,0.7],[5.5,2.15],[5.6,0.25],[5.9,1.3],[6.2,0.55],[6.5,1.8],[6.8,0.85],[7.1,0.35],[7.3,3.93],[7.4,1.15],[7.7,0.6],[8.1,3.83],[8.1,2.5],[8.4,0.95],[8.8,0.3],[9.2,1.4],[9.5,0.7],[9.8,3.65],
      [10.3,0.6],[10.8,1.0],[11.3,0.35],[11.9,3.2],[11.9,1.3],[12.5,0.75],[13.2,3.24],[13.2,0.5],[14.0,1.1],[14.8,0.25],[15.0,1.85],[15.6,0.8],[16.4,0.45],[17.2,1.2],[18.1,0.65],[18.4,3.16],[19.0,1.5],[20.0,0.35],[21.0,0.9],[22.0,1.35],[23.2,0.55],[24.4,0.2],[25.6,1.0],[27.0,0.7],[28.0,3.6],[28.4,1.6],[29.0,2.35],[29.8,0.45],[30.0,3.83],[31.3,1.15],[33.0,0.8],[34.6,0.3],[36.4,1.3],[38.2,0.6],[40.0,1.0],[42.0,0.4],[44.0,1.45],[46.5,0.75],[49.0,1.1],[51.5,0.5],[54.0,0.9],[55.0,2.6],[57.0,1.3],[60.0,0.65],[63.0,2.4],[63.0,1.05],[66.0,0.4],[69.0,1.5],[72.0,0.85],[76.0,1.2],[80.0,0.55],[84.0,1.6],[88.0,0.95],[92.0,1.35],[96.0,0.7],
      [102,0.9],[106,1.5],[110,0.55],[115,1.2],[120,1.8],[126,0.8],[132,1.35],[138,2.31],[140,1.0],[146,1.65],[153,0.45],[160,1.25],[168,1.9],[176,0.7],[185,1.45],[190,2.84],[195,1.1],[205,1.7],[215,0.85],[228,1.35],[243,3.55],[243,2.1],[250,1.05],[265,1.55],[280,0.6],[295,1.85],[310,1.25],[330,0.9],[350,1.6],[370,2.3],[375,1.2],[400,1.95],[420,0.75],[445,1.45],[470,2.2],[500,1.1],[530,1.75],[570,3.73],[570,1.35],[600,3.7],[620,2.1],[660,0.95],[700,1.6],[740,2.45],[780,1.25],[820,3.3],[830,1.9],[890,3.8],[900,2.7],[950,1.5],
      [1020,2.62],[1080,1.3],[1150,0.8],[1250,1.7],[1350,1.1],[1450,2.0],[1600,0.9],[1700,1.45],[1850,0.7],[2000,1.2],[2200,2.81],[2250,2.65],[2400,1.0],[2700,3.3],[2900,3.0],[3100,1.5],[3500,0.75],[3900,1.25],[4300,2.86],[4800,2.46],[4900,3.0],[5000,1.84],[5300,0.55],[5800,1.2],[6300,1.84],[7000,0.9],[7800,1.4],[8100,1.55],[8800,2.37],[9100,3.05],[9500,2.9]
    ];
    const ratioLifCloud = [
      [1.2,[0.3,0.6]],[1.5,[0.45,0.75]],[1.9,[0.3,0.55]],[2.4,[0.4,0.7]],[3.0,[0.25,0.55]],[3.7,[0.4,0.65]],[4.6,[0.2,0.5,0.8]],[5.7,[0.35,0.6]],[7.1,[0.2,0.5,0.75]],[8.8,[0.35,0.6]],[10.9,[0.15,0.4,0.7]],[13.5,[0.3,0.55,0.85]],[16.7,[0.2,0.45,0.7]],[20.7,[0.3,0.55,0.8]],[25.6,[0.2,0.45,0.7,0.95]],[31.7,[0.35,0.6,0.85]],[39.2,[0.25,0.5,0.75,1.0]],[48.5,[0.4,0.65,0.9]],[60,[0.3,0.6,0.85,1.1]],[74,[0.5,0.75,1.0,1.3]],[92,[0.6,0.9,1.15,1.45]],
      [114,[0.7,1.0,1.3,1.6]],[141,[0.85,1.1,1.4,1.7]],[174,[0.8,1.1,1.45,1.8]],[215,[0.95,1.25,1.55,1.9]],[266,[0.9,1.2,1.55,1.85]],[330,[1.05,1.35,1.7,2.0]],[408,[1.0,1.3,1.6,1.95]],[505,[1.15,1.45,1.8,2.1]],[624,[1.1,1.4,1.75]],[772,[1.25,1.6,1.95]],[955,[1.2,1.5,1.85]],[1180,[1.4,1.75]],[1460,[1.3,1.65]],[1800,[1.5,1.85]],
      [103,[0.85,1.15,1.45]],[127,[0.75,1.05,1.35,1.65]],[157,[0.95,1.25,1.55]],[193,[0.9,1.25,1.6,1.95]],[239,[1.05,1.4,1.75]],[295,[1.0,1.35,1.7,2.05]],[365,[1.15,1.5,1.85]],[450,[1.1,1.45,1.8,2.15]],[560,[1.25,1.6,1.95]],[690,[1.2,1.55,1.9,2.2]],[860,[1.35,1.7,2.05]],[1060,[1.3,1.6,1.95]],[1310,[1.5,1.85]],[1620,[1.4,1.75]]
    ];

    const xTickLabels = [1, 10, 100, 1000, 10000];
    const yTicks = [0, 1, 2, 3, 4];
    const seriesNames = ["LIF", "CIMS"];

    const W = 900, H = 886;
    const left = 92, right = 854;
    const font = '"Liberation Sans", Arial, sans-serif';
    const lifColor = "#ff0000", cimsColor = "#0000ff";
    const lifLight = "#ffb3b3", cimsLight = "#b3b3ff";
    const dotR = 4.5;

    const flatten = (cloud) => cloud.flatMap(([n, ys]) => ys.map((v) => [n, v]));

    const panels = [
      { top: 20, bottom: 254, label: [["OH obs/mod", 0]], labelX: 50,
        lifPts: ohLifPts.concat(flatten(ohLifCloud)),
        cimsPts: flatten(ohCimsCloud).concat(flatten(ohCimsCloudB), ohCimsPts),
        lif: ohLifMean, cims: ohCimsMean },
      { top: 299, bottom: 532, label: [["HO", 0], ["2", 1], [" obs/mod", 0]], labelX: 43,
        lifPts: ho2LifPts.concat(flatten(ho2LifCloud)),
        cimsPts: flatten(ho2CimsCloud).concat(flatten(ho2CimsCloudB), ho2CimsPts),
        lif: ho2LifMean, cims: ho2CimsMean },
      { top: 579, bottom: 812, label: [["HO", 0], ["2", 1], ["/OH obs/mod", 0]], labelX: 43,
        lifPts: ratioLifPts.concat(flatten(ratioLifCloud)),
        cimsPts: flatten(ratioCimsCloud).concat(flatten(ratioCimsCloudB), ratioCimsPts),
        lif: ratioLifMean, cims: ratioCimsMean }
    ];

    const svg = d3.select("svg#viz");
    svg.append("rect").attr("width", W).attr("height", H).attr("fill", "#fff");

    const x = d3.scaleLog().domain([1, 10000]).range([left, right]);
    const allXTicks = x.ticks();
    const minorX = allXTicks.filter((v) => !xTickLabels.includes(v));
    const gridX = allXTicks.filter((v) => v > 1 && v < 10000);

    function triangle(w, h) {
      return `M0,${-h / 2}L${w / 2},${h / 2}L${-w / 2},${h / 2}Z`;
    }

    panels.forEach((p, i) => {
      const y = d3.scaleLinear().domain([0, 4]).range([p.bottom, p.top]);
      const g = svg.append("g");

      // dashed grid
      g.selectAll("line.gx").data(gridX).join("line")
        .attr("x1", (d) => x(d)).attr("x2", (d) => x(d))
        .attr("y1", p.top).attr("y2", p.bottom)
        .attr("stroke", "#000").attr("stroke-width", 1).attr("stroke-dasharray", "8,5");
      g.selectAll("line.gy").data([2, 3]).join("line")
        .attr("x1", left).attr("x2", right)
        .attr("y1", (d) => y(d)).attr("y2", (d) => y(d))
        .attr("stroke", "#000").attr("stroke-width", 1).attr("stroke-dasharray", "8,5");
      // 1:1 reference
      g.append("line")
        .attr("x1", left).attr("x2", right).attr("y1", y(1)).attr("y2", y(1))
        .attr("stroke", "#222").attr("stroke-width", 1.6);

      // scatter
      g.append("g").selectAll("circle").data(p.lifPts).join("circle")
        .attr("cx", (d) => x(d[0])).attr("cy", (d) => y(d[1])).attr("r", dotR)
        .attr("fill", lifLight);
      g.append("g").selectAll("circle").data(p.cimsPts).join("circle")
        .attr("cx", (d) => x(d[0])).attr("cy", (d) => y(d[1])).attr("r", dotR)
        .attr("fill", cimsLight);

      // binned means
      const line = d3.line().x((d) => x(d[0])).y((d) => y(d[1]));
      const lifData = noBins.map((n, k) => [n, p.lif[k]]);
      const cimsData = noBins.map((n, k) => [n, p.cims[k]]);

      g.append("path").datum(lifData).attr("d", line)
        .attr("fill", "none").attr("stroke", lifColor).attr("stroke-width", 6)
        .attr("stroke-linejoin", "round");
      g.selectAll("path.tri").data(lifData).join("path").attr("class", "tri")
        .attr("d", triangle(31, 24))
        .attr("transform", (d) => `translate(${x(d[0])},${y(d[1])})`)
        .attr("fill", lifColor);

      g.append("path").datum(cimsData).attr("d", line)
        .attr("fill", "none").attr("stroke", cimsColor).attr("stroke-width", 6)
        .attr("stroke-linejoin", "round");
      g.selectAll("circle.dot").data(cimsData).join("circle").attr("class", "dot")
        .attr("cx", (d) => x(d[0])).attr("cy", (d) => y(d[1])).attr("r", 11)
        .attr("fill", cimsColor);

      // axes (ticks inward)
      const axes = svg.append("g").attr("stroke-width", 1.2);
      axes.append("g").attr("transform", `translate(0,${p.bottom})`)
        .call(d3.axisBottom(x).tickValues(minorX).tickSize(-4).tickFormat(""));
      axes.append("g").attr("transform", `translate(0,${p.top})`)
        .call(d3.axisTop(x).tickValues(minorX).tickSize(-4).tickFormat(""));
      axes.append("g").attr("transform", `translate(0,${p.top})`)
        .call(d3.axisTop(x).tickValues(xTickLabels).tickSize(-8).tickFormat(""));
      const bottomAxis = axes.append("g").attr("transform", `translate(0,${p.bottom})`)
        .call(d3.axisBottom(x).tickValues(xTickLabels).tickSize(-8).tickPadding(12)
          .tickFormat(i === 2 ? (d) => String(d) : ""));
      const leftAxis = axes.append("g").attr("transform", `translate(${left},0)`)
        .call(d3.axisLeft(y).tickValues(yTicks).tickSize(-8).tickPadding(16).tickFormat(d3.format("d")));
      axes.append("g").attr("transform", `translate(${right},0)`)
        .call(d3.axisRight(y).tickValues(yTicks).tickSize(-8).tickFormat(""));
      axes.selectAll(".domain").remove();
      axes.selectAll(".tick line").attr("stroke", "#000");
      axes.selectAll("text").attr("font-family", font).attr("font-size", 29).attr("fill", "#000");

      bottomAxis.selectAll("text").attr("dx", (d) => (d === 10000 ? 0 : 6));
      leftAxis.selectAll("text").attr("y", (d) => (d === 0 ? -5 : d === 4 ? 3 : 0));

      // frame
      svg.append("rect")
        .attr("x", left).attr("y", p.top)
        .attr("width", right - left).attr("height", p.bottom - p.top)
        .attr("fill", "none").attr("stroke", "#000").attr("stroke-width", 1.6);

      // y label
      const yl = svg.append("text")
        .attr("transform", `translate(${p.labelX},${(p.top + p.bottom) / 2 + 2}) rotate(-90)`)
        .attr("text-anchor", "middle")
        .attr("font-family", font).attr("font-size", 30).attr("fill", "#000");
      p.label.forEach(([t, sub], k) => {
        yl.append("tspan").text(t)
          .attr("font-size", sub ? 21 : 30)
          .attr("dy", sub ? 9 : k === 0 ? 0 : -9);
      });

      // legend in the first panel
      if (i === 0) {
        const lg = svg.append("g");
        lg.append("rect").attr("x", 504.5).attr("y", 32.5).attr("width", 171.5).attr("height", 87)
          .attr("fill", "#fff").attr("stroke", "#000").attr("stroke-width", 1.2);
        const rows = [55, 95];
        seriesNames.forEach((name, k) => {
          const col = k === 0 ? lifColor : cimsColor;
          lg.append("line").attr("x1", 518).attr("x2", 581)
            .attr("y1", rows[k]).attr("y2", rows[k])
            .attr("stroke", col).attr("stroke-width", 6);
          if (k === 0) {
            lg.append("path").attr("d", triangle(28, 21))
              .attr("transform", `translate(550,${rows[k]})`).attr("fill", col);
          } else {
            lg.append("circle").attr("cx", 550).attr("cy", rows[k]).attr("r", 9).attr("fill", col);
          }
          lg.append("text").attr("x", 589).attr("y", rows[k] + 11)
            .attr("font-family", font).attr("font-size", 29).text(name);
        });
      }
    });

    // x label
    svg.append("text")
      .attr("x", 470).attr("y", 878)
      .attr("text-anchor", "middle")
      .attr("font-family", font).attr("font-size", 29)
      .text("NO (pptv)");
  </script>
  <style>
    body {
      margin: 0px;
    }
  </style>
</html>
